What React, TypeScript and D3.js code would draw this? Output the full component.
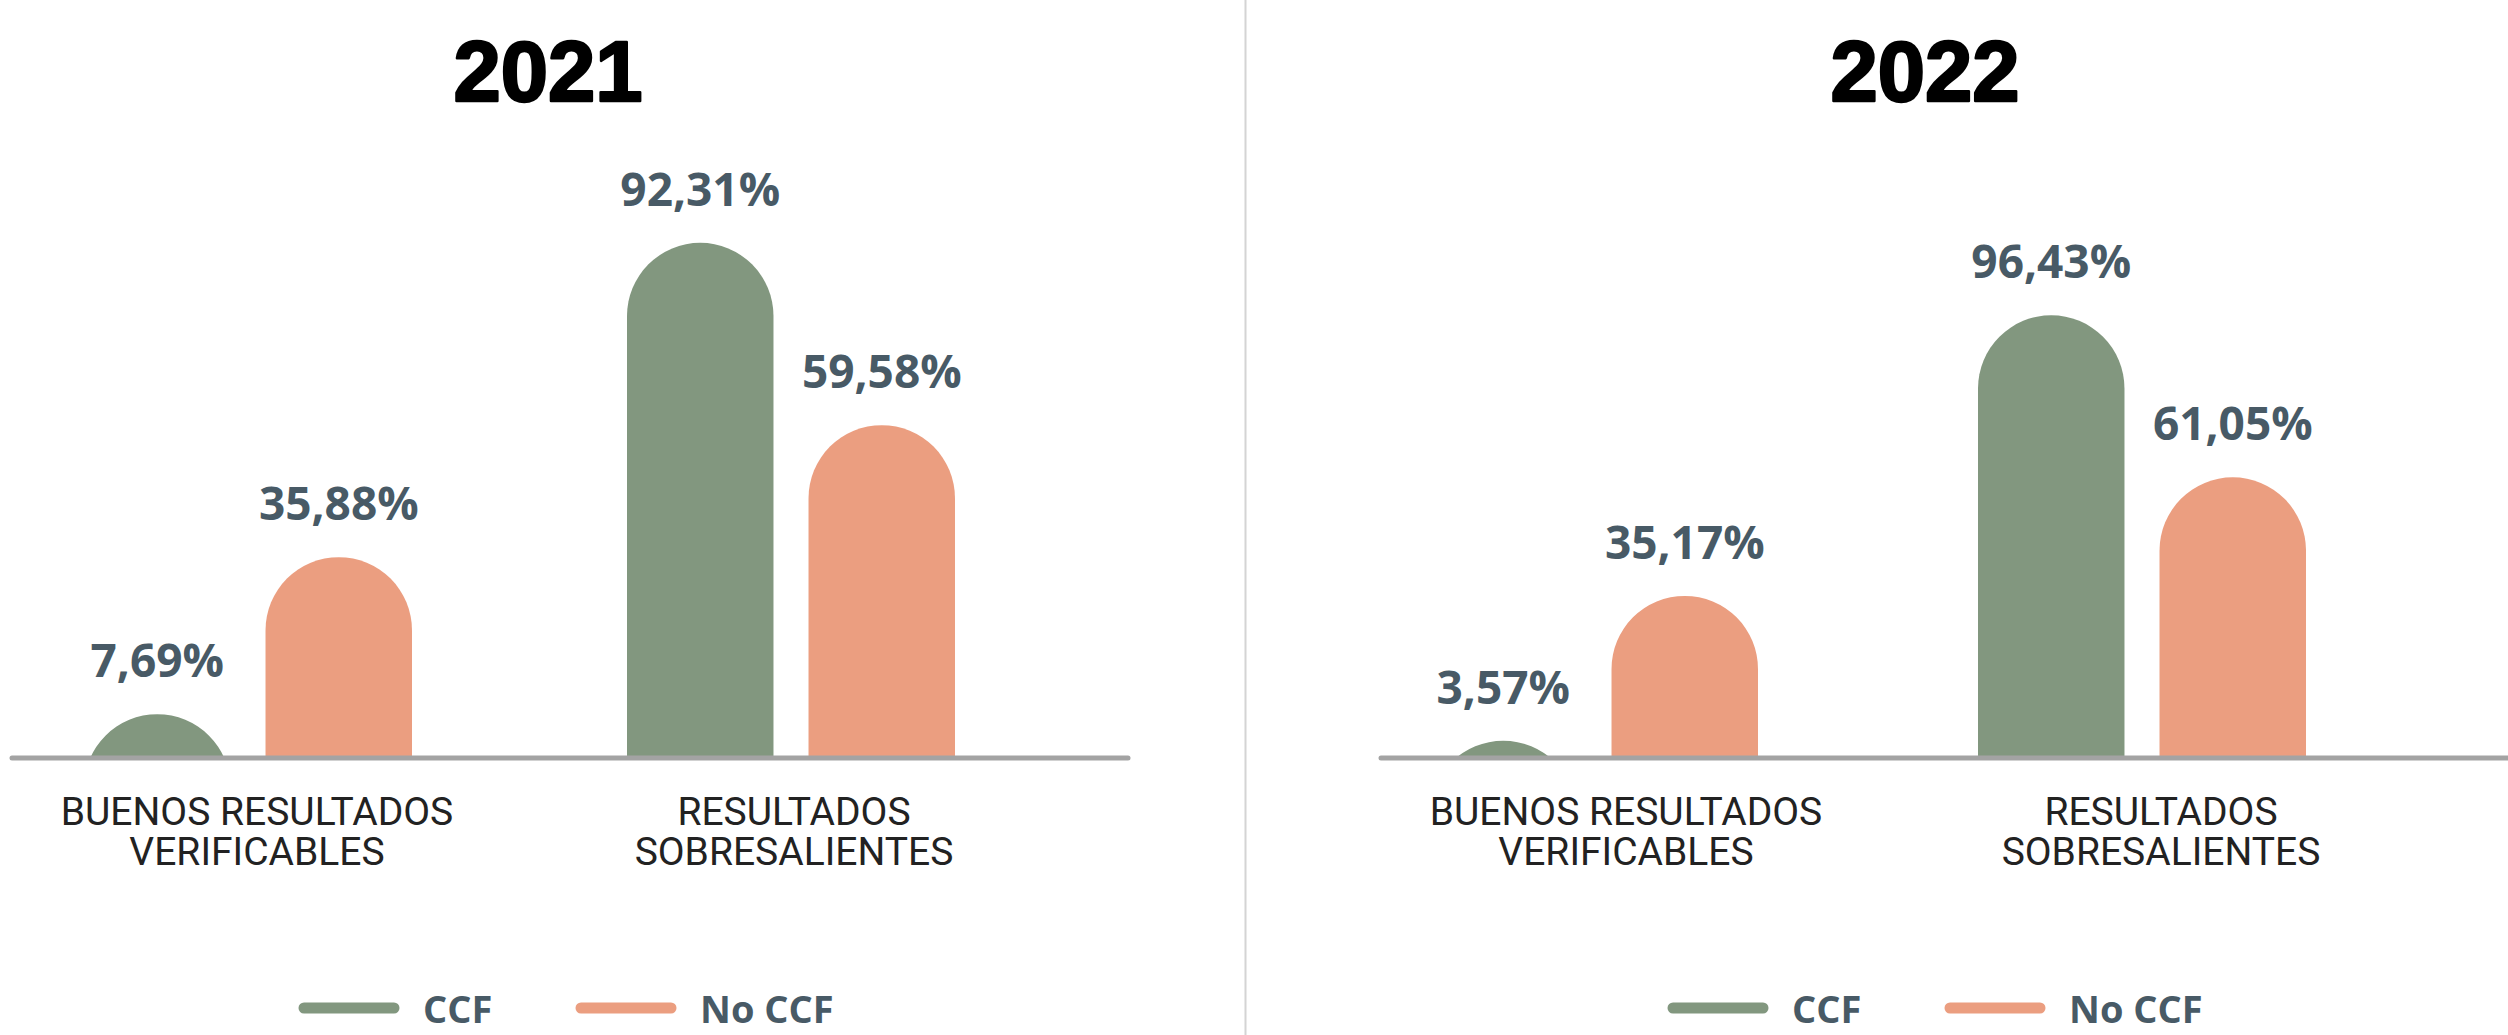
import React from "react";
import * as d3 from "d3";

// ---------- data ----------
const years = ["2021", "2022"];
const categories = ["BUENOS RESULTADOS VERIFICABLES", "RESULTADOS SOBRESALIENTES"];
const categoryLines = [
  ["BUENOS RESULTADOS", "VERIFICABLES"],
  ["RESULTADOS", "SOBRESALIENTES"],
];
const series = ["CCF", "No CCF"];
const ccf2021 = [7.69, 92.31];
const noCcf2021 = [35.88, 59.58];
const ccf2022 = [3.57, 96.43];
const noCcf2022 = [35.17, 61.05];

// ---------- style / layout ----------
const W = 2508;
const H = 1035;
const COLORS: Record<string, string> = { CCF: "#82977f", "No CCF": "#eb9e80" };
const LABEL_COLOR = "#485a66";
const BASE_Y = 757;
const TOP_Y = 200;

const panels = [
  {
    year: years[0],
    values: [ccf2021, noCcf2021],
    yMax: 100,
    barRange: [-23.5, 1062.5],
    labelRange: [257, 794],
    axis: [12, 1128],
    titleX: 548,
    legendX: 299,
  },
  {
    year: years[1],
    values: [ccf2022, noCcf2022],
    yMax: 121.6,
    barRange: [1320, 2416],
    labelRange: [1626, 2161],
    axis: [1381, 2508],
    titleX: 1925,
    legendX: 1668,
  },
];

const locale = d3.formatLocale({
  decimal: ",",
  thousands: ".",
  grouping: [3],
  currency: ["", "€"],
});
const fmt = locale.format(".2f");

function barPath(x0: number, w: number, yTop: number, yB: number) {
  const r = w / 2;
  return `M${x0},${yB + 2}L${x0},${yTop + r}A${r},${r} 0 0 1 ${x0 + w},${yTop + r}L${x0 + w},${yB + 2}Z`;
}

function Panel({ p, idx }: { p: (typeof panels)[number]; idx: number }) {
  const x0 = d3.scaleBand<string>().domain(categories).range(p.barRange as [number, number]).padding(0);
  const x1 = d3
    .scaleBand<string>()
    .domain(series)
    .range([-164, 164])
    .paddingInner(0.193)
    .paddingOuter(0);
  const xl = d3.scalePoint<string>().domain(categories).range(p.labelRange as [number, number]);
  const y = d3.scaleLinear().domain([0, p.yMax]).range([BASE_Y, TOP_Y]);
  const clipId = `clip-${idx}`;
  const legendLen = 100;
  const legendGap = 277;

  return (
    <g>
      <defs>
        <clipPath id={clipId}>
          <rect x={0} y={0} width={W} height={BASE_Y + 1} />
        </clipPath>
      </defs>
      <text
        x={p.titleX}
        y={101}
        textAnchor="middle"
        fontFamily="'Liberation Sans', Arial, sans-serif"
        fontWeight={700}
        fontSize={85}
        fill="#000"
        stroke="#000"
        strokeWidth={2.5}
        strokeLinejoin="round"
      >
        {p.year}
      </text>
      <g clipPath={`url(#${clipId})`}>
        {categories.map((c, ci) =>
          series.map((s, si) => {
            const v = p.values[si][ci];
            const cx = (x0(c) as number) + x0.bandwidth() / 2;
            const bx = cx + (x1(s) as number);
            return (
              <path
                key={`${c}-${s}`}
                d={barPath(bx, x1.bandwidth(), y(v), BASE_Y)}
                fill={COLORS[s]}
              />
            );
          })
        )}
      </g>
      {categories.map((c, ci) =>
        series.map((s, si) => {
          const v = p.values[si][ci];
          const cx = (x0(c) as number) + x0.bandwidth() / 2 + (x1(s) as number) + x1.bandwidth() / 2;
          return (
            <text
              key={`l-${c}-${s}`}
              x={cx}
              y={y(v) - 37}
              textAnchor="middle"
              fontFamily="'Open Sans', sans-serif"
              fontWeight={700}
              fontSize={46}
              fill={LABEL_COLOR}
            >
              {fmt(v) + "%"}
            </text>
          );
        })
      )}
      <line
        x1={p.axis[0]}
        x2={p.axis[1]}
        y1={BASE_Y + 1}
        y2={BASE_Y + 1}
        stroke="#a3a3a3"
        strokeWidth={5}
        strokeLinecap="round"
      />
      {categories.map((c, ci) => (
        <text
          key={`c-${c}`}
          x={xl(c)}
          textAnchor="middle"
          fontFamily="Roboto, sans-serif"
          fontSize={39}
          fill="#222"
        >
          {categoryLines[ci].map((ln, li) => (
            <tspan key={li} x={xl(c)} y={825 + li * 40}>
              {ln}
            </tspan>
          ))}
        </text>
      ))}
      {series.map((s, si) => {
        const lx = p.legendX + si * legendGap;
        return (
          <g key={`leg-${s}`}>
            <line
              x1={lx + 5}
              x2={lx + legendLen - 5}
              y1={1008}
              y2={1008}
              stroke={COLORS[s]}
              strokeWidth={11}
              strokeLinecap="round"
            />
            <text
              x={lx + legendLen + 24}
              y={1023}
              fontFamily="'Open Sans', sans-serif"
              fontWeight={700}
              fontSize={38}
              fill={LABEL_COLOR}
            >
              {s}
            </text>
          </g>
        );
      })}
    </g>
  );
}

export default function App() {
  return (
    <svg
      width={W}
      height={H}
      viewBox={`0 0 ${W} ${H}`}
      style={{ position: "absolute", left: 0, top: 0, background: "#fff" }}
    >
      <rect x={0} y={0} width={W} height={H} fill="#fff" />
      <line x1={1245.5} x2={1245.5} y1={0} y2={H} stroke="#d4d4d4" strokeWidth={2} />
      {panels.map((p, i) => (
        <Panel key={p.year} p={p} idx={i} />
      ))}
    </svg>
  );
}
